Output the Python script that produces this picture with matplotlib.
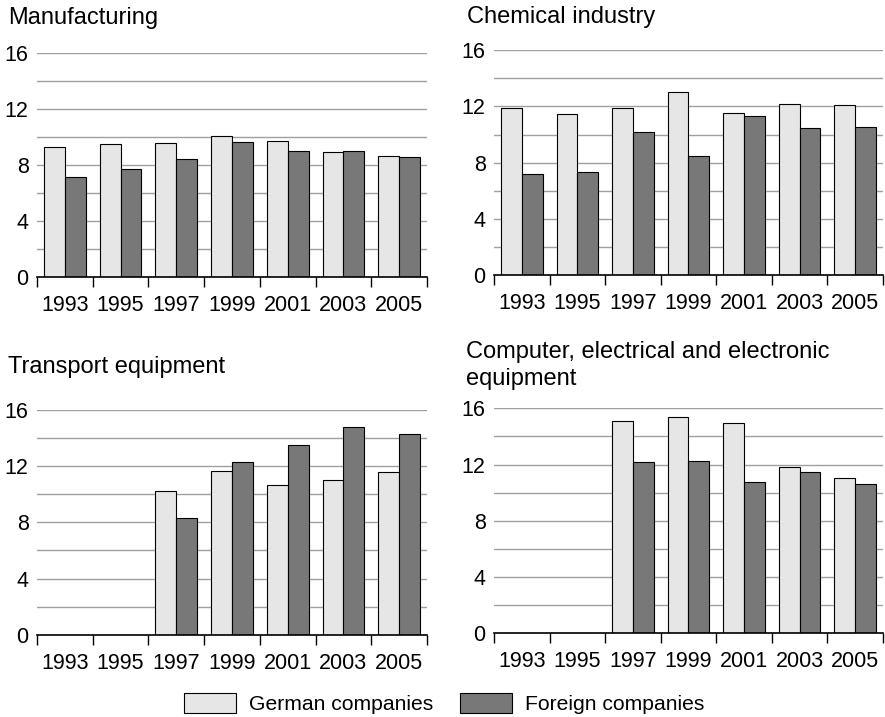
import matplotlib.pyplot as plt
import numpy as np
from matplotlib.patches import Patch

plt.rcParams['font.family'] = ['Liberation Sans', 'DejaVu Sans']

years = ['1993', '1995', '1997', '1999', '2001', '2003', '2005']

# valores por sector: empresas alemanas / extranjeras
manuf_ger = [9.3, 9.5, 9.6, 10.07, 9.74, 8.95, 8.62]
manuf_for = [7.16, 7.69, 8.4, 9.62, 9.02, 9.0, 8.6]

chem_ger = [11.86, 11.43, 11.86, 13.02, 11.53, 12.19, 12.12]
chem_for = [7.22, 7.34, 10.16, 8.45, 11.29, 10.44, 10.51]

transp_ger = [0, 0, 10.26, 11.68, 10.66, 11.02, 11.61]
transp_for = [0, 0, 8.33, 12.28, 13.53, 14.77, 14.27]

elec_ger = [0, 0, 15.12, 15.4, 14.98, 11.8, 11.05]
elec_for = [0, 0, 12.18, 12.28, 10.78, 11.45, 10.6]

titles = [['Manufacturing'], ['Chemical industry'], ['Transport equipment'],
          ['Computer, electrical and electronic', 'equipment']]
series = [(manuf_ger, manuf_for), (chem_ger, chem_for),
          (transp_ger, transp_for), (elec_ger, elec_for)]

c_ger = '#e6e6e6'
c_for = '#787878'

fig = plt.figure(figsize=(8.85, 7.17), dpi=100)

# posiciones de los ejes [left, bottom, width, height] en fracción de figura
rects = [[0.0418, 0.6137, 0.4407, 0.3124],
         [0.5582, 0.6160, 0.4395, 0.3142],
         [0.0418, 0.1148, 0.4407, 0.3134],
         [0.5582, 0.1167, 0.4395, 0.3138]]
# posición de los títulos (x, y de la línea base) en píxeles
title_pos = [(8, 24), (467, 23), (8, 373), (466, 358)]
line_step = 27  # separación entre renglones del título, en píxeles

x = np.arange(len(years))
w = 0.375
for rect, (ger, fore), title, (tx, ty) in zip(rects, series, titles, title_pos):
    ax = fig.add_axes(rect)
    for yv in range(2, 17, 2):
        ax.axhline(yv, color='#a0a0a0', lw=1, zorder=0)
    ax.bar(x - w/2, ger, w, color=c_ger, edgecolor='black', lw=0.8, zorder=2)
    ax.bar(x + w/2, fore, w, color=c_for, edgecolor='black', lw=0.8, zorder=2)
    ax.set_xlim(-0.5, len(years) - 0.5)
    ax.set_ylim(0, 16)
    ax.set_yticks([0, 4, 8, 12, 16])
    ax.tick_params(axis='y', length=0, pad=6, labelsize=15.5)
    ax.set_xticks(x)
    ax.set_xticklabels(years)
    ax.set_xticks(np.arange(-0.5, len(years)), minor=True)
    ax.tick_params(axis='x', which='major', length=0, pad=13, labelsize=15.5)
    ax.tick_params(axis='x', which='minor', length=7, width=1, direction='out')
    for s in ['left', 'right', 'top']:
        ax.spines[s].set_visible(False)
    ax.spines['bottom'].set_linewidth(1.2)
    ax.spines['bottom'].set_zorder(3)
    for i, linea in enumerate(title):
        fig.text(tx/885, 1 - (ty + i*line_step)/717, linea, fontsize=17,
                 va='baseline', ha='left')

handles = [Patch(facecolor=c_ger, edgecolor='black', lw=0.8, label='German companies'),
           Patch(facecolor=c_for, edgecolor='black', lw=0.8, label='Foreign companies')]
fig.legend(handles=handles, loc='center', bbox_to_anchor=(0.502, 0.019), ncol=2,
           frameon=False, fontsize=15.2, handlelength=2.46, handleheight=1.09,
           handletextpad=0.62, columnspacing=1.28, borderpad=0)

plt.savefig('out.png', dpi=100)
